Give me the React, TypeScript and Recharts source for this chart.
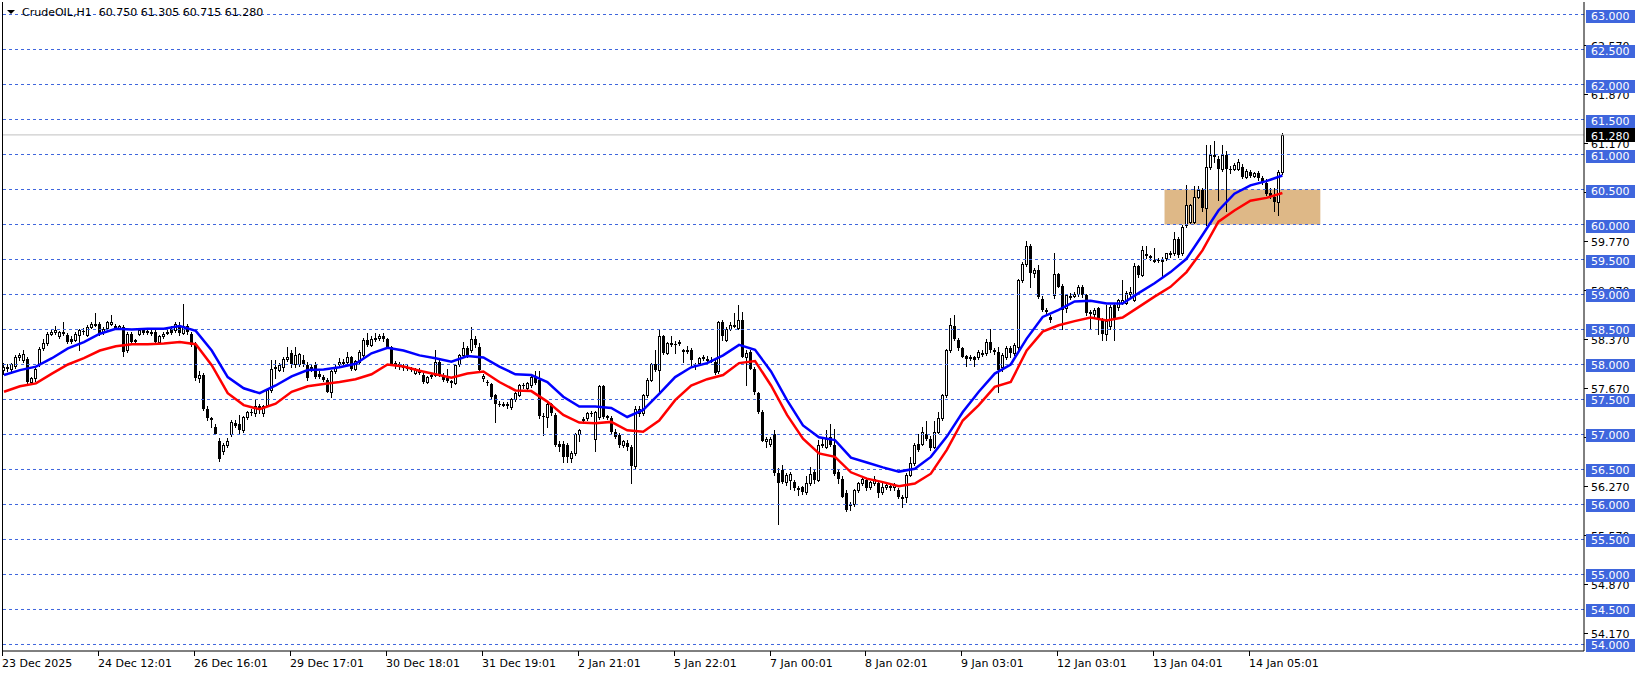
import React from 'react';
import { Bar, ComposedChart, Line, ReferenceArea, ReferenceLine, XAxis, YAxis } from 'recharts';

// CrudeOIL H1 candles. Each row: [open, high, low, close]
type Candle = [number, number, number, number];

const dec23: Candle[] = [
  [57.92, 58.02, 57.86, 57.97], [57.97, 58.0, 57.9, 57.94], [57.94, 58.02, 57.9, 58.0], [57.98, 58.13, 57.95, 58.1],
  [58.1, 58.16, 58.06, 58.14], [58.06, 58.2, 58.03, 58.15], [58.08, 58.1, 57.73, 57.75], [57.75, 57.82, 57.72, 57.8],
  [57.8, 57.98, 57.77, 57.94], [58.0, 58.25, 57.98, 58.22], [58.23, 58.37, 58.2, 58.3], [58.3, 58.46, 58.28, 58.44],
  [58.44, 58.5, 58.42, 58.46], [58.46, 58.55, 58.44, 58.49], [58.4, 58.48, 58.38, 58.47], [58.45, 58.6, 58.42, 58.46],
  [58.42, 58.45, 58.3, 58.32], [58.37, 58.4, 58.3, 58.32], [58.35, 58.47, 58.33, 58.44], [58.42, 58.5, 58.2, 58.49],
  [58.48, 58.52, 58.44, 58.46], [58.42, 58.56, 58.4, 58.54], [58.54, 58.6, 58.52, 58.58], [58.57, 58.73, 58.55, 58.58],
];
const dec24: Candle[] = [
  [58.58, 58.6, 58.42, 58.44], [58.47, 58.53, 58.44, 58.51], [58.52, 58.62, 58.5, 58.6], [58.58, 58.7, 58.56, 58.61],
  [58.55, 58.58, 58.5, 58.52], [58.52, 58.57, 58.5, 58.55], [58.54, 58.56, 58.12, 58.18], [58.2, 58.46, 58.18, 58.44],
  [58.44, 58.46, 58.3, 58.32], [58.33, 58.37, 58.3, 58.35], [58.44, 58.5, 58.42, 58.49], [58.49, 58.52, 58.44, 58.45],
  [58.46, 58.5, 58.44, 58.48], [58.47, 58.52, 58.42, 58.47], [58.47, 58.49, 58.3, 58.32], [58.32, 58.42, 58.3, 58.4],
  [58.4, 58.46, 58.38, 58.44], [58.45, 58.49, 58.43, 58.47], [58.5, 58.55, 58.43, 58.45], [58.49, 58.6, 58.47, 58.58],
  [58.57, 58.6, 58.42, 58.45], [58.45, 58.87, 58.43, 58.55], [58.55, 58.58, 58.44, 58.46], [58.44, 58.46, 58.26, 58.28],
];
const dec26: Candle[] = [
  [58.28, 58.32, 57.78, 57.8], [57.8, 57.9, 57.75, 57.85], [57.85, 57.88, 57.35, 57.37], [57.37, 57.4, 57.2, 57.23],
  [57.23, 57.25, 57.1, 57.2], [57.1, 57.15, 57.0, 57.01], [56.9, 56.95, 56.62, 56.65], [56.76, 56.88, 56.72, 56.85],
  [56.85, 56.95, 56.82, 56.9], [57.0, 57.2, 56.98, 57.18], [57.17, 57.2, 57.1, 57.12], [57.15, 57.28, 57.02, 57.06],
  [57.06, 57.27, 57.04, 57.25], [57.25, 57.34, 57.22, 57.32], [57.32, 57.36, 57.28, 57.3], [57.3, 57.5, 57.26, 57.4],
  [57.4, 57.44, 57.3, 57.35], [57.3, 57.42, 57.27, 57.4], [57.42, 57.65, 57.4, 57.63], [57.63, 58.06, 57.6, 57.94],
  [57.96, 58.06, 57.8, 57.97], [57.92, 58.02, 57.9, 57.99], [57.97, 58.1, 57.9, 58.08], [58.08, 58.25, 58.05, 58.1],
];
const dec29: Candle[] = [
  [58.16, 58.2, 57.97, 58.0], [58.0, 58.25, 57.97, 58.13], [58.0, 58.17, 57.98, 58.15], [58.06, 58.14, 57.98, 58.0],
  [57.99, 58.04, 57.78, 57.8], [57.97, 58.0, 57.9, 57.93], [57.99, 58.04, 57.8, 57.82], [57.87, 57.9, 57.8, 57.82],
  [57.82, 57.85, 57.76, 57.78], [57.78, 57.8, 57.6, 57.61], [57.6, 57.92, 57.53, 57.9], [57.9, 57.99, 57.88, 57.97],
  [58.0, 58.09, 57.98, 58.04], [58.04, 58.08, 58.0, 58.04], [58.04, 58.18, 58.02, 58.1], [58.1, 58.12, 57.92, 57.94],
  [57.94, 58.07, 57.92, 58.05], [58.03, 58.2, 58.0, 58.18], [58.13, 58.38, 58.1, 58.35], [58.35, 58.45, 58.26, 58.28],
  [58.28, 58.4, 58.26, 58.37], [58.37, 58.45, 58.33, 58.38], [58.38, 58.43, 58.35, 58.41], [58.41, 58.45, 58.34, 58.36],
];
const dec30: Candle[] = [
  [58.36, 58.38, 58.24, 58.25], [58.25, 58.27, 58.0, 58.01], [58.0, 58.05, 57.95, 58.02], [58.0, 58.03, 57.94, 57.98],
  [57.98, 58.0, 57.92, 57.95], [57.96, 58.0, 57.92, 57.93], [57.93, 57.96, 57.9, 57.92], [57.88, 57.95, 57.86, 57.92],
  [57.92, 57.95, 57.86, 57.88], [57.85, 57.88, 57.74, 57.75], [57.75, 57.84, 57.73, 57.82], [57.84, 57.88, 57.8, 57.85],
  [57.85, 58.21, 57.84, 58.04], [58.04, 58.06, 57.84, 57.85], [57.85, 57.88, 57.77, 57.78], [57.8, 57.93, 57.75, 57.76],
  [57.76, 57.78, 57.68, 57.73], [57.73, 58.0, 57.72, 57.99], [58.0, 58.15, 57.98, 58.13], [58.13, 58.32, 58.1, 58.23],
  [58.23, 58.26, 58.1, 58.12], [58.2, 58.54, 58.18, 58.37], [58.36, 58.4, 58.25, 58.28], [58.25, 58.3, 57.9, 57.92],
];
const dec31: Candle[] = [
  [57.8, 57.86, 57.76, 57.83], [57.75, 57.78, 57.7, 57.73], [57.72, 57.74, 57.52, 57.54], [57.56, 57.58, 57.18, 57.44],
  [57.44, 57.48, 57.4, 57.43], [57.43, 57.47, 57.4, 57.44], [57.44, 57.46, 57.38, 57.4], [57.39, 57.52, 57.37, 57.5],
  [57.5, 57.6, 57.48, 57.59], [57.56, 57.72, 57.55, 57.7], [57.7, 57.73, 57.66, 57.69], [57.66, 57.75, 57.64, 57.73],
  [57.7, 57.85, 57.68, 57.82], [57.82, 57.9, 57.72, 57.73], [57.78, 57.9, 57.24, 57.26], [57.27, 57.3, 56.99, 57.26],
  [57.25, 57.46, 57.1, 57.44], [57.44, 57.45, 57.28, 57.3], [57.28, 57.3, 56.84, 56.85], [56.87, 56.9, 56.76, 56.82],
  [56.87, 56.9, 56.61, 56.68], [56.85, 56.88, 56.61, 56.68], [56.66, 56.76, 56.6, 56.73], [56.73, 57.02, 56.7, 57.0],
];
const jan02: Candle[] = [
  [57.0, 57.08, 56.9, 57.07], [57.2, 57.25, 57.17, 57.22], [57.23, 57.32, 57.2, 57.3], [57.3, 57.33, 57.27, 57.29],
  [56.94, 57.33, 56.77, 57.32], [57.25, 57.7, 57.22, 57.69], [57.69, 57.7, 57.24, 57.25], [57.25, 57.28, 57.22, 57.26],
  [57.24, 57.27, 57.02, 57.04], [57.04, 57.08, 56.95, 56.97], [56.99, 57.02, 56.82, 56.85], [56.85, 56.92, 56.82, 56.9],
  [56.88, 56.92, 56.78, 56.82], [56.82, 56.85, 56.3, 56.55], [56.55, 57.4, 56.52, 57.37], [57.3, 57.4, 57.27, 57.37],
  [57.3, 57.58, 57.28, 57.56], [57.56, 57.8, 57.54, 57.78], [57.78, 58.02, 57.76, 58.01], [58.01, 58.2, 57.9, 57.92],
  [57.92, 58.49, 57.62, 58.4], [58.4, 58.42, 58.15, 58.17], [58.17, 58.32, 58.15, 58.3], [58.29, 58.4, 58.27, 58.3],
];
const jan05: Candle[] = [
  [58.29, 58.33, 58.17, 58.28], [58.3, 58.35, 58.28, 58.32], [58.2, 58.22, 58.04, 58.18], [58.19, 58.27, 58.17, 58.21],
  [58.2, 58.23, 57.99, 58.06], [57.99, 58.02, 57.94, 57.96], [58.02, 58.11, 58.0, 58.09], [58.09, 58.14, 58.07, 58.1],
  [58.07, 58.12, 58.05, 58.08], [58.06, 58.1, 58.03, 58.06], [58.04, 58.06, 57.86, 57.88], [57.9, 58.62, 57.88, 58.6],
  [58.6, 58.64, 58.35, 58.4], [58.35, 58.54, 58.33, 58.51], [58.51, 58.6, 58.49, 58.56], [58.56, 58.73, 58.53, 58.56],
  [58.52, 58.85, 58.5, 58.63], [58.63, 58.75, 58.1, 58.11], [58.11, 58.2, 57.7, 58.17], [58.18, 58.2, 57.93, 57.94],
  [57.94, 57.97, 57.58, 57.6], [57.59, 57.61, 57.3, 57.32], [57.32, 57.35, 56.9, 56.91], [56.91, 56.96, 56.82, 56.93],
];
const jan07: Candle[] = [
  [56.87, 56.97, 56.84, 56.94], [57.0, 57.06, 56.42, 56.45], [56.45, 56.52, 55.72, 56.3], [56.49, 56.56, 56.3, 56.32],
  [56.32, 56.45, 56.28, 56.42], [56.35, 56.46, 56.22, 56.44], [56.32, 56.35, 56.2, 56.23], [56.24, 56.27, 56.13, 56.24],
  [56.25, 56.27, 56.15, 56.18], [56.18, 56.4, 56.15, 56.3], [56.3, 56.54, 56.28, 56.44], [56.47, 56.5, 56.3, 56.35],
  [56.35, 56.92, 56.33, 56.85], [56.85, 56.97, 56.82, 56.86], [56.82, 57.06, 56.8, 56.94], [56.96, 57.15, 56.84, 56.85],
  [56.85, 57.08, 56.42, 56.44], [56.47, 56.5, 56.3, 56.37], [56.37, 56.4, 56.1, 56.11], [56.16, 56.2, 55.9, 55.92],
  [56.0, 56.03, 55.92, 56.0], [56.0, 56.22, 55.98, 56.2], [56.2, 56.32, 56.18, 56.3], [56.3, 56.4, 56.28, 56.36],
];
const jan08: Candle[] = [
  [56.35, 56.38, 56.2, 56.23], [56.25, 56.34, 56.22, 56.32], [56.3, 56.4, 56.28, 56.36], [56.3, 56.33, 56.1, 56.16],
  [56.18, 56.3, 56.15, 56.25], [56.25, 56.32, 56.22, 56.28], [56.26, 56.3, 56.2, 56.26], [56.25, 56.3, 56.2, 56.28],
  [56.2, 56.23, 56.09, 56.11], [56.11, 56.14, 55.97, 56.11], [56.11, 56.45, 56.04, 56.42], [56.42, 56.68, 56.4, 56.59],
  [56.59, 56.88, 56.56, 56.85], [56.87, 57.0, 56.76, 56.78], [56.87, 57.1, 56.85, 57.04], [57.0, 57.19, 56.92, 56.94],
  [56.94, 56.98, 56.78, 56.8], [56.82, 57.19, 56.8, 57.04], [57.04, 57.32, 57.02, 57.23], [57.23, 57.58, 57.2, 57.56],
  [57.56, 58.22, 57.54, 58.2], [58.2, 58.66, 58.18, 58.56], [58.55, 58.7, 58.35, 58.37], [58.35, 58.38, 58.2, 58.23],
];
const jan09: Candle[] = [
  [58.23, 58.25, 58.1, 58.11], [58.12, 58.14, 57.98, 58.08], [58.1, 58.14, 58.06, 58.1], [58.1, 58.12, 57.98, 58.06],
  [58.1, 58.2, 58.08, 58.18], [58.16, 58.2, 58.12, 58.16], [58.16, 58.36, 58.14, 58.32], [58.32, 58.51, 58.18, 58.2],
  [58.2, 58.24, 58.15, 58.18], [58.18, 58.25, 57.6, 57.92], [57.97, 58.16, 57.9, 58.13], [58.11, 58.26, 58.08, 58.23],
  [58.23, 58.26, 58.1, 58.16], [58.16, 58.3, 58.14, 58.28], [58.25, 59.22, 58.22, 59.2], [59.2, 59.46, 59.18, 59.44],
  [59.44, 59.77, 59.4, 59.7], [59.7, 59.72, 59.1, 59.3], [59.3, 59.38, 59.25, 59.35], [59.35, 59.42, 58.95, 58.97],
  [58.94, 58.98, 58.76, 58.78], [58.78, 58.8, 58.7, 58.75], [58.68, 58.7, 58.6, 58.64], [58.99, 59.59, 58.95, 59.29],
];
const jan12: Candle[] = [
  [59.29, 59.3, 59.1, 59.11], [59.12, 59.15, 58.5, 58.78], [58.8, 59.0, 58.75, 58.99], [58.98, 59.02, 58.94, 58.98],
  [58.98, 59.03, 58.96, 59.0], [59.0, 59.14, 58.98, 59.11], [59.11, 59.13, 58.97, 58.99], [58.99, 59.0, 58.7, 58.73],
  [58.75, 58.78, 58.52, 58.72], [58.72, 58.8, 58.68, 58.78], [58.8, 58.82, 58.44, 58.63], [58.63, 58.66, 58.35, 58.44],
  [58.44, 58.85, 58.35, 58.62], [58.55, 58.85, 58.5, 58.82], [58.85, 58.88, 58.35, 58.63], [58.82, 58.94, 58.78, 58.92],
  [58.88, 59.2, 58.86, 58.92], [58.88, 59.05, 58.86, 59.02], [59.0, 59.1, 58.98, 59.04], [58.92, 59.45, 58.9, 59.4],
  [59.4, 59.42, 59.25, 59.28], [59.28, 59.7, 59.26, 59.64], [59.58, 59.7, 59.52, 59.55], [59.55, 59.56, 59.5, 59.52],
];
const jan13: Candle[] = [
  [59.48, 59.66, 59.46, 59.5], [59.5, 59.52, 59.46, 59.48], [59.48, 59.53, 59.27, 59.5], [59.52, 59.6, 59.5, 59.59],
  [59.6, 59.62, 59.54, 59.57], [59.59, 59.9, 59.57, 59.8], [59.8, 59.82, 59.54, 59.56], [59.59, 60.0, 59.57, 59.97],
  [59.99, 60.57, 59.97, 60.28], [60.04, 60.3, 60.02, 60.28], [60.04, 60.55, 60.02, 60.4], [60.4, 60.55, 60.38, 60.5],
  [60.49, 60.52, 60.2, 60.23], [60.23, 61.13, 60.0, 60.82], [60.82, 61.13, 60.8, 60.99], [60.99, 61.2, 60.9, 60.96],
  [60.93, 60.98, 60.35, 60.79], [60.79, 61.13, 60.77, 60.99], [60.99, 61.05, 60.2, 60.79], [60.8, 60.83, 60.74, 60.78],
  [60.8, 60.88, 60.78, 60.85], [60.8, 60.93, 60.78, 60.9], [60.82, 60.86, 60.66, 60.68], [60.68, 60.79, 60.66, 60.77],
];
const jan14: Candle[] = [
  [60.75, 60.78, 60.68, 60.7], [60.7, 60.75, 60.68, 60.73], [60.74, 60.77, 60.64, 60.67], [60.67, 60.7, 60.58, 60.6],
  [60.6, 60.65, 60.42, 60.44], [60.45, 60.52, 60.38, 60.4], [60.4, 60.52, 60.2, 60.32], [60.32, 60.78, 60.14, 60.75],
  [60.75, 61.305, 60.715, 61.28],
];

// moving averages sampled every MA_STEP bars
const MA_STEP = 4;
const blueMa = [
  57.85, 57.92, 57.97, 58.09, 58.23, 58.32, 58.44, 58.51, 58.5, 58.51, 58.51, 58.55, 58.48, 58.2, 57.82, 57.66, 57.59,
  57.7, 57.83, 57.92, 57.93, 57.96, 58.01, 58.16, 58.24, 58.2, 58.13, 58.09, 58.04, 58.12, 58.1, 57.97, 57.86,
  57.85, 57.75, 57.54, 57.4, 57.4, 57.38, 57.25, 57.35, 57.58, 57.82, 57.96, 58.02, 58.13, 58.28, 58.21, 57.9,
  57.49, 57.13, 56.96, 56.92, 56.67, 56.6, 56.53, 56.47, 56.51, 56.68, 56.97, 57.32, 57.61, 57.87, 58.0, 58.37,
  58.68, 58.78, 58.9, 58.91, 58.87, 58.87, 59.02, 59.16, 59.32, 59.51, 59.85, 60.2, 60.44, 60.56, 60.62, 60.7,
];
const redMa = [
  57.61, 57.69, 57.73, 57.87, 58.0, 58.09, 58.2, 58.26, 58.29, 58.29, 58.3, 58.32, 58.29, 57.99, 57.59, 57.42, 57.36,
  57.44, 57.61, 57.69, 57.72, 57.75, 57.79, 57.86, 58.0, 57.97, 57.91, 57.86, 57.81, 57.87, 57.9, 57.75, 57.63,
  57.62, 57.47, 57.28, 57.17, 57.16, 57.18, 57.06, 57.04, 57.2, 57.49, 57.7, 57.79, 57.85, 58.02, 58.05, 57.7,
  57.28, 56.94, 56.73, 56.68, 56.46, 56.37, 56.32, 56.26, 56.3, 56.44, 56.78, 57.2, 57.42, 57.68, 57.75, 58.2,
  58.47, 58.56, 58.62, 58.67, 58.63, 58.67, 58.82, 58.97, 59.11, 59.32, 59.63, 60.04, 60.2, 60.34, 60.38, 60.45,
];

const dateLabels = [
  '23 Dec 2025', '24 Dec 12:01', '26 Dec 16:01', '29 Dec 17:01', '30 Dec 18:01', '31 Dec 19:01', '2 Jan 21:01',
  '5 Jan 22:01', '7 Jan 00:01', '8 Jan 02:01', '9 Jan 03:01', '12 Jan 03:01', '13 Jan 04:01', '14 Jan 05:01',
];
const gridLevels = [54, 54.5, 55, 55.5, 56, 56.5, 57, 57.5, 58, 58.5, 59, 59.5, 60, 60.5, 61, 61.5, 62, 62.5, 63];
const scaleLevels = [54.17, 54.87, 55.57, 56.27, 56.97, 57.67, 58.37, 59.07, 59.77, 60.47, 61.17, 61.87, 62.57];
const lastPrice = 61.28;
const zone = { from: 291, to: 329, low: 60.0, high: 60.5 };

const TICK_EVERY = 24;
const TOTAL_SLOTS = 396; // empty space right of the last bar
const AXIS_X = 1584;
const AXIS_Y = 651;
const FONT = '"DejaVu Sans", Verdana, sans-serif';
const GRID_BLUE = '#3f66dd';

const candles: Candle[] = [
  ...dec23, ...dec24, ...dec26, ...dec29, ...dec30, ...dec31, ...jan02,
  ...jan05, ...jan07, ...jan08, ...jan09, ...jan12, ...jan13, ...jan14,
];

const rows = Array.from({ length: TOTAL_SLOTS }, (_, i) => {
  const c = candles[i];
  const k = i / MA_STEP;
  return {
    i,
    o: c ? c[0] : null,
    h: c ? c[1] : null,
    l: c ? c[2] : null,
    c: c ? c[3] : null,
    hl: c ? [c[2], c[1]] : null,
    blue: i % MA_STEP === 0 && k < blueMa.length ? blueMa[k] : null,
    red: i % MA_STEP === 0 && k < redMa.length ? redMa[k] : null,
  };
});

function CandleShape(props: any) {
  const { x, y, width, height, payload } = props;
  if (!payload || payload.o == null) return null;
  const { o, h, l, c } = payload;
  const span = h - l;
  const yOf = (p: number) => Math.round(span > 0 ? y + ((h - p) / span) * height : y);
  const cx = Math.floor(x + width / 2);
  const top = Math.min(yOf(o), yOf(c));
  const bot = Math.max(yOf(o), yOf(c));
  return (
    <g>
      <line x1={cx + 0.5} x2={cx + 0.5} y1={yOf(h)} y2={yOf(l) + 1} stroke="#000" strokeWidth={1} />
      {c >= o ? (
        <rect x={cx - 0.5} y={top + 0.5} width={2} height={Math.max(bot - top, 1)} fill="#fff" stroke="#000" strokeWidth={1} />
      ) : (
        <rect x={cx - 1} y={top} width={3} height={Math.max(bot - top, 1)} fill="#000" />
      )}
    </g>
  );
}

function PriceTick(props: any) {
  const { y, payload } = props;
  const v = payload.value as number;
  const label = v.toFixed(3);
  const ty = Math.round(y);
  if (v === lastPrice) {
    return (
      <g>
        <rect x={AXIS_X + 2} y={ty - 7} width={49} height={14} fill="#000" />
        <text x={AXIS_X + 7} y={ty + 4.5} fill="#fff" fontSize={11} fontFamily={FONT}>{label}</text>
      </g>
    );
  }
  if (gridLevels.includes(v)) {
    return (
      <g>
        <rect x={AXIS_X + 2} y={ty - 5} width={49} height={13} fill={GRID_BLUE} />
        <text x={AXIS_X + 7} y={ty + 5} fill="#fff" fontSize={11} fontFamily={FONT}>{label}</text>
      </g>
    );
  }
  return (
    <g>
      <line x1={AXIS_X} x2={AXIS_X + 4} y1={ty + 0.5} y2={ty + 0.5} stroke="#000" />
      <text x={AXIS_X + 7} y={ty + 4.5} fill="#000" fontSize={11} fontFamily={FONT}>{label}</text>
    </g>
  );
}

function DateTick(props: any) {
  const { x, payload } = props;
  const label = dateLabels[Math.round(payload.value / TICK_EVERY)];
  if (!label) return null;
  const tx = Math.floor(x) - 1;
  return (
    <g>
      <line x1={tx + 0.5} x2={tx + 0.5} y1={AXIS_Y} y2={AXIS_Y + 5} stroke="#000" />
      <text x={tx} y={AXIS_Y + 16} fill="#000" fontSize={11} fontFamily={FONT}>{label}</text>
    </g>
  );
}

export default function App() {
  return (
    <div style={{ position: 'relative', width: 1641, height: 675, background: '#fff' }}>
      <style>{'body{margin:0}'}</style>
      <ComposedChart
        width={1641}
        height={675}
        data={rows}
        margin={{ top: 2, right: 0, bottom: 0, left: 2 }}
      >
        <XAxis
          dataKey="i"
          type="category"
          interval={TICK_EVERY - 1}
          height={24}
          stroke="#000"
          tickLine={false}
          tick={<DateTick />}
        />
        <YAxis
          orientation="right"
          width={57}
          domain={[53.9071, 63.1786]}
          allowDataOverflow
          ticks={[...scaleLevels, ...gridLevels, lastPrice]}
          interval={0}
          stroke="#000"
          tickLine={false}
          tick={<PriceTick />}
        />
        {gridLevels.map((v) => (
          <ReferenceLine key={v} y={v} stroke={GRID_BLUE} strokeDasharray="3 3" />
        ))}
        <ReferenceArea x1={zone.from} x2={zone.to} y1={zone.low} y2={zone.high} fill="#deb887" fillOpacity={1} stroke="none" />
        <ReferenceLine y={lastPrice} stroke="#c0c0c0" />
        <Bar dataKey="hl" shape={<CandleShape />} isAnimationActive={false} />
        <Line dataKey="blue" stroke="#0000ff" strokeWidth={2.5} dot={false} connectNulls isAnimationActive={false} />
        <Line dataKey="red" stroke="#ff0000" strokeWidth={2.5} dot={false} connectNulls isAnimationActive={false} />
      </ComposedChart>
      <div style={{ position: 'absolute', left: 2, top: 2, width: 1, height: AXIS_Y - 2, background: '#000' }} />
      <svg style={{ position: 'absolute', left: 0, top: 0, pointerEvents: 'none' }} width={400} height={24}>
        <polygon points="7,10 15,10 11,14" fill="#000" />
        <text x={22} y={16} fontSize={11} fontFamily={FONT} fill="#000" style={{ whiteSpace: 'pre' }}>
          {'CrudeOIL,H1  60.750 61.305 60.715 61.280'}
        </text>
      </svg>
    </div>
  );
}
